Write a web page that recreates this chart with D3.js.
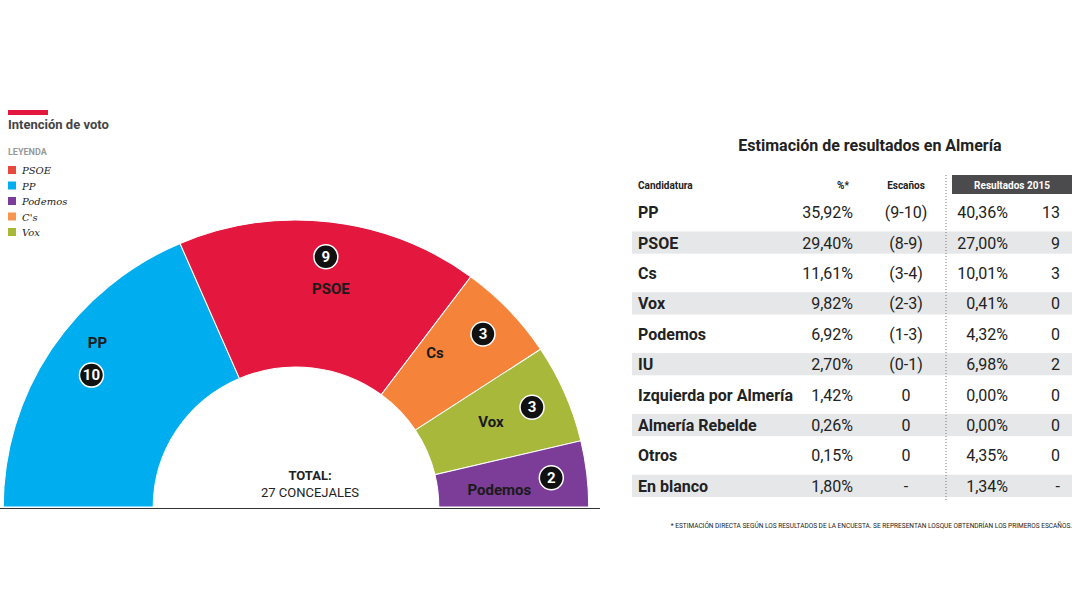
<!DOCTYPE html>
<html lang="es">
<head>
<meta charset="UTF-8">
<title>Intención de voto Almería</title>
<script src="https://d3js.org/d3.v7.min.js"></script>
<style>
  body { margin: 0; background: #fff; font-family: Roboto, "Noto Sans", sans-serif; }
</style>
</head>
<body>
<div id="chart"></div>
<script>
  // Hemicycle data (left to right)
  const parties = ["PP", "PSOE", "Cs", "Vox", "Podemos"];
  const seats = [10, 9, 3, 3, 2];
  const colors = ["#00aeef", "#e4173e", "#f5843a", "#a8b83b", "#7b3d97"];

  // Legend
  const legendNames = ["PSOE", "PP", "Podemos", "C's", "Vox"];
  const legendColors = ["#e8493f", "#00aeef", "#7b3d97", "#f5954f", "#a8b83b"];

  // Table
  const candidates = ["PP", "PSOE", "Cs", "Vox", "Podemos", "IU", "Izquierda por Almería", "Almería Rebelde", "Otros", "En blanco"];
  const pct = ["35,92%", "29,40%", "11,61%", "9,82%", "6,92%", "2,70%", "1,42%", "0,26%", "0,15%", "1,80%"];
  const escanos = ["(9-10)", "(8-9)", "(3-4)", "(2-3)", "(1-3)", "(0-1)", "0", "0", "0", "-"];
  const pct2015 = ["40,36%", "27,00%", "10,01%", "0,41%", "4,32%", "6,98%", "0,00%", "0,00%", "4,35%", "1,34%"];
  const seats2015 = ["13", "9", "3", "0", "0", "2", "0", "0", "0", "-"];

  const svg = d3.select("#chart").append("svg").attr("width", 1080).attr("height", 608);

  // Header + legend
  svg.append("rect").attr("x", 8).attr("y", 110).attr("width", 40).attr("height", 5).attr("fill", "#e4173e");
  svg.append("text").attr("x", 8).attr("y", 129).attr("font-size", 13).attr("font-weight", "bold")
    .attr("fill", "#444").text("Intención de voto");
  svg.append("text").attr("x", 8).attr("y", 155).attr("font-size", 9).attr("font-weight", "bold")
    .attr("fill", "#999").text("LEYENDA");
  const lg = svg.append("g").selectAll("g").data(legendNames).join("g")
    .attr("transform", (d, i) => `translate(8,${166 + i * 15.5})`);
  lg.append("rect").attr("width", 8).attr("height", 8).attr("fill", (d, i) => legendColors[i]);
  lg.append("text").attr("x", 14).attr("y", 8).attr("font-size", 10).attr("font-style", "italic")
    .attr("font-family", "'DejaVu Serif', serif").attr("fill", "#222").text(d => d);

  // Hemicycle
  const cx = 296, cy = 507, sx = 1.02;
  const rOuter = 287, rInner = 140;
  const total = d3.sum(seats);
  const angle = d3.scaleLinear().domain([0, total]).range([-Math.PI / 2, Math.PI / 2]);
  const cum = d3.cumsum([0].concat(seats));
  const arc = d3.arc().innerRadius(rInner).outerRadius(rOuter);
  const hemi = svg.append("g").attr("transform", `translate(${cx},${cy}) scale(${sx},1)`);
  hemi.selectAll("path").data(parties).join("path")
    .attr("d", (d, i) => arc({ startAngle: angle(cum[i]), endAngle: angle(cum[i + 1]) }))
    .attr("fill", (d, i) => colors[i]).attr("stroke", "#fff").attr("stroke-width", 1);

  // Labels: circle on mid angle, name offset from circle
  const circR = [240, 252, 252, 252, 252];
  const nameOff = [[6, -32], [5, 32], [-48, 19], [-41, 15], [-52, 12]];
  const pos = (i, r) => {
    const a = (angle(cum[i]) + angle(cum[i + 1])) / 2;
    return [cx + Math.sin(a) * r * sx, cy - Math.cos(a) * r];
  };
  const lab = svg.append("g");
  parties.forEach((p, i) => {
    const c = pos(i, circR[i]);
    lab.append("circle").attr("cx", c[0]).attr("cy", c[1]).attr("r", 12)
      .attr("fill", "#111").attr("stroke", "#fff").attr("stroke-width", 1.5);
    lab.append("text").attr("x", c[0]).attr("y", c[1] + 5).attr("text-anchor", "middle")
      .attr("font-size", 15).attr("font-weight", "bold").attr("fill", "#fff").text(seats[i]);
    lab.append("text").attr("x", c[0] + nameOff[i][0]).attr("y", c[1] + nameOff[i][1] + 5)
      .attr("text-anchor", "middle").attr("font-size", 15).attr("font-weight", "bold")
      .attr("fill", "#1a1a1a").text(p);
  });
  svg.append("line").attr("x1", 0).attr("x2", 600).attr("y1", cy + 1.5).attr("y2", cy + 1.5)
    .attr("stroke", "#333").attr("stroke-width", 1);
  svg.append("text").attr("x", 310).attr("y", 480).attr("text-anchor", "middle").attr("font-size", 13)
    .attr("font-weight", "bold").attr("fill", "#222").text("TOTAL:");
  svg.append("text").attr("x", 310).attr("y", 497).attr("text-anchor", "middle").attr("font-size", 13)
    .attr("fill", "#222").text("27 CONCEJALES");

  // Table
  svg.append("text").attr("x", 870).attr("y", 151).attr("text-anchor", "middle").attr("font-size", 16)
    .attr("font-weight", "bold").attr("fill", "#222").text("Estimación de resultados en Almería");
  const y = d3.scaleBand().domain(candidates).range([198, 500]).paddingInner(0.27).paddingOuter(0.1);
  const t = svg.append("g");
  t.selectAll("rect.band").data(candidates).join("rect").attr("class", "band")
    .attr("x", 632).attr("width", 440).attr("y", d => y(d)).attr("height", y.bandwidth())
    .attr("fill", (d, i) => i % 2 ? "#e6e7e8" : "none");
  svg.append("rect").attr("x", 952).attr("y", 175).attr("width", 120).attr("height", 19).attr("fill", "#4b4a4c");
  const hdr = [["Candidatura", 638, "start", "#222"], ["%*", 843, "middle", "#222"],
               ["Escaños", 906, "middle", "#222"], ["Resultados 2015", 1012, "middle", "#fff"]];
  hdr.forEach(h => svg.append("text").attr("x", h[1]).attr("y", 189).attr("text-anchor", h[2])
    .attr("font-size", 10).attr("font-weight", "bold").attr("fill", h[3]).text(h[0]));
  svg.append("line").attr("x1", 946).attr("x2", 946).attr("y1", 175).attr("y2", 500)
    .attr("stroke", "#777").attr("stroke-dasharray", "1,2");
  const cols = [[candidates, 638, "start", "bold"], [pct, 853, "end", "normal"], [escanos, 906, "middle", "normal"],
                [pct2015, 1008, "end", "normal"], [seats2015, 1060, "end", "normal"]];
  cols.forEach(c => {
    t.selectAll(null).data(c[0]).join("text").attr("x", c[1])
      .attr("y", (d, i) => y(candidates[i]) + y.bandwidth() / 2 + 6)
      .attr("text-anchor", c[2]).attr("font-size", 16).attr("font-weight", c[3])
      .attr("fill", "#222").text(d => d);
  });
  svg.append("text").attr("x", 1072).attr("y", 528).attr("text-anchor", "end").attr("font-size", 6.5)
    .attr("fill", "#222").text("* ESTIMACIÓN DIRECTA SEGÚN LOS RESULTADOS DE LA ENCUESTA. SE REPRESENTAN LOSQUE OBTENDRÍAN LOS PRIMEROS ESCAÑOS.");
</script>
</body>
</html>
